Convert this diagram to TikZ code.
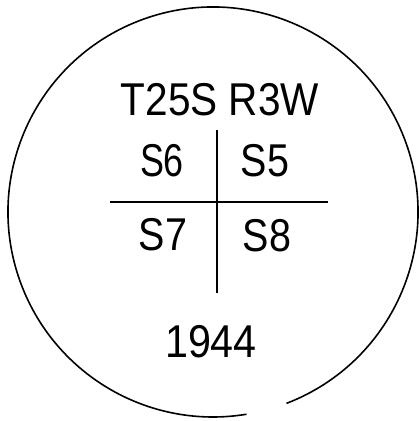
\documentclass[tikz,border=0pt]{standalone}
\usepackage{fontspec}
\setmainfont{Liberation Sans}
\usetikzlibrary{calc}
\begin{document}
\begin{tikzpicture}[x=1pt,y=1pt,
  hand/.style={inner sep=0pt, font=\fontsize{46}{46}\selectfont, xscale=0.78},
  pen/.style={line width=1.6pt, black}]
\useasboundingbox (0,0) rectangle (419,421);
\coordinate (c) at (213,209);
\draw[pen] ($(c)+(-69:205)$) arc[start angle=-69, end angle=279.4, radius=205];
\coordinate (vt) at (217,291);
\coordinate (vb) at (217,128);
\coordinate (hl) at (110,219);
\coordinate (hr) at (328,219);
\draw[pen] (vt) -- (vb);
\draw[pen] (hl) -- (hr);
\node[hand, xscale=1.13] (title) at (220,321) {T25S R3W};
\node[hand] (s6) at (162,260) {S6};
\node[hand, xscale=1.1] (s5) at (265,260) {S5};
\node[hand, xscale=1.1] (s7) at (163,186) {S7};
\node[hand, xscale=1.1] (s8) at (267,185) {S8};
\node[hand, xscale=1.15] (yr) at (211,79) {1944};
\end{tikzpicture}
\end{document}
